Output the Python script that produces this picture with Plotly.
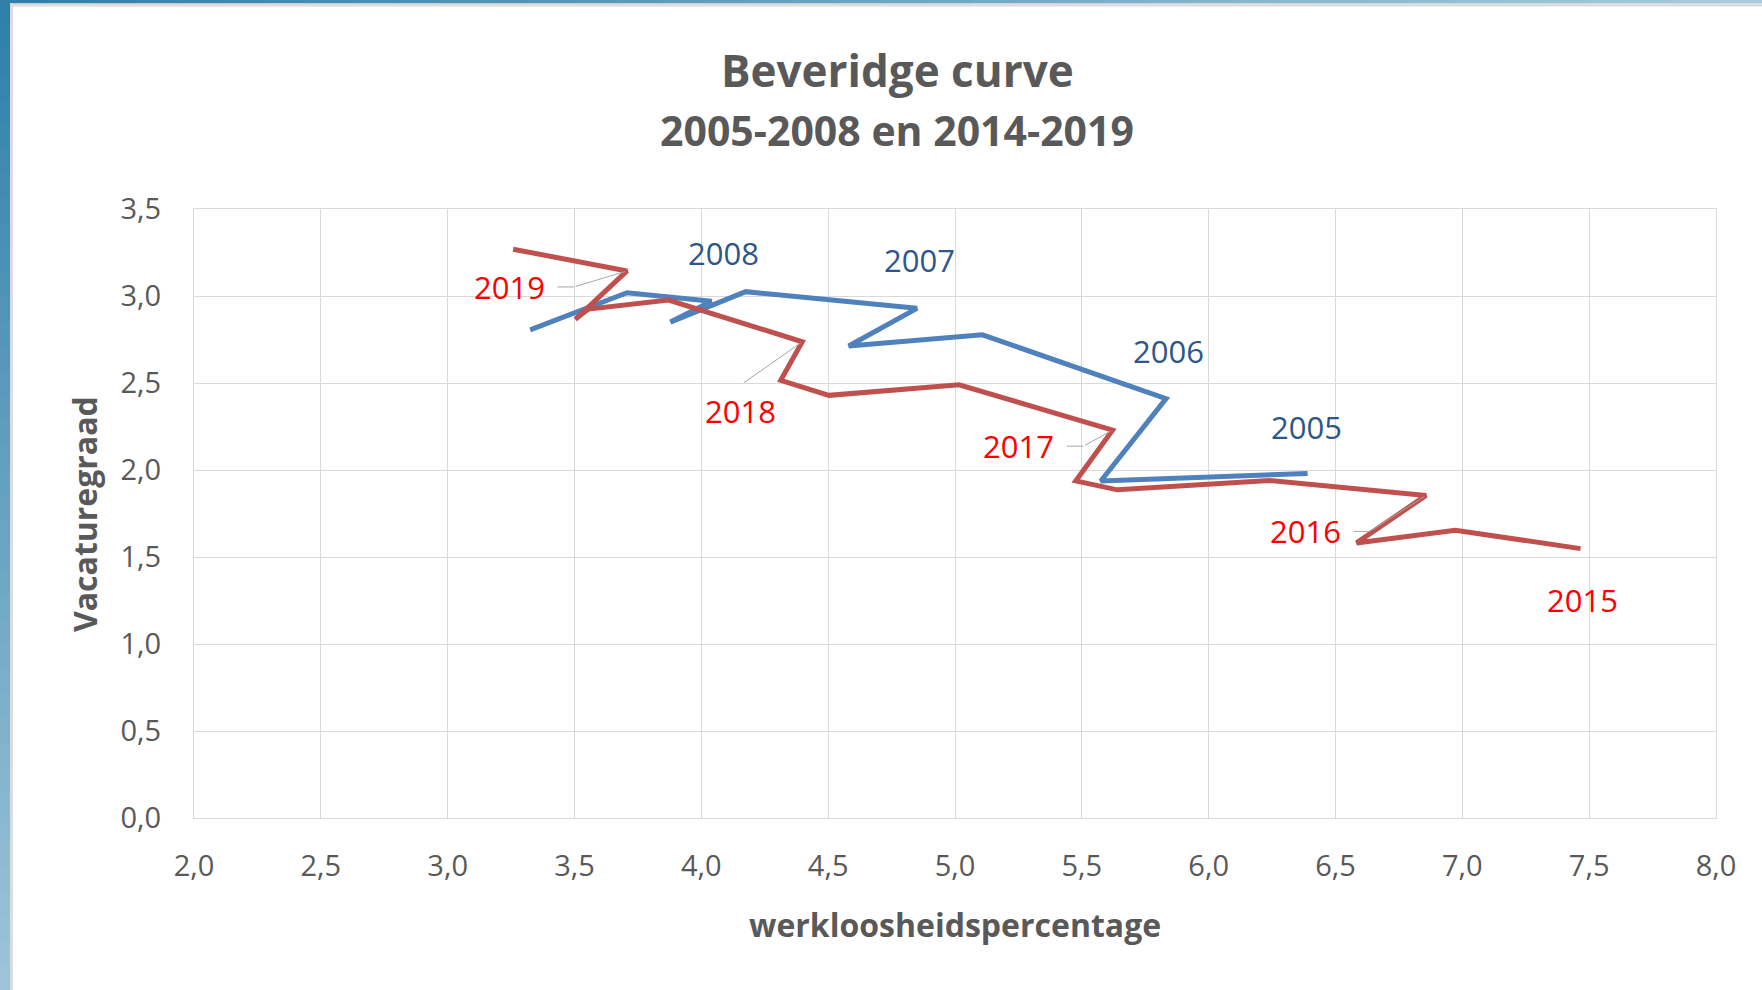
import plotly.graph_objects as go

# ---- data ----
blue_x = [6.39, 5.575, 5.832, 5.108, 4.581, 4.85, 4.175, 3.878, 4.04, 3.707, 3.325]
blue_y = [1.98, 1.937, 2.41, 2.777, 2.713, 2.929, 3.025, 2.85, 2.97, 3.019, 2.805]
blue_label_idx = [0, 2, 5, 8]
blue_label_txt = ["2005", "2006", "2007", "2008"]

red_x = [7.466, 6.972, 6.583, 6.857, 6.24, 5.64, 5.476, 5.621, 5.016, 4.503,
         4.313, 4.398, 3.871, 3.555, 3.503, 3.707, 3.258]
red_y = [1.548, 1.654, 1.581, 1.854, 1.94, 1.886, 1.937, 2.229, 2.49, 2.429,
         2.515, 2.737, 2.977, 2.925, 2.866, 3.144, 3.269]
red_label_idx = [0, 3, 7, 11, 15]
red_label_txt = ["2015", "2016", "2017", "2018", "2019"]

x_ticks = [2.0, 2.5, 3.0, 3.5, 4.0, 4.5, 5.0, 5.5, 6.0, 6.5, 7.0, 7.5, 8.0]
y_ticks = [0.0, 0.5, 1.0, 1.5, 2.0, 2.5, 3.0, 3.5]

title_line1 = "Beveridge curve"
title_line2 = "2005-2008 en 2014-2019"
x_title = "werkloosheidspercentage"
y_title = "Vacaturegraad"

# ---- layout geometry ----
W, H = 1762, 990
L, R, T, B = 194, 46, 209, 172
PW, PH = W - L - R, H - T - B
FONT = "Open Sans"
GREY = "#595959"
LEADER = "#A6A6A6"


def px_x(X):
    return (X - L) / PW


def px_y(Y):
    return (H - B - Y) / PH


fig = go.Figure()
fig.add_trace(go.Scatter(x=blue_x, y=blue_y, mode="lines", name="2005-2008",
                         line=dict(color="#4F81BD", width=5), hoverinfo="x+y"))
fig.add_trace(go.Scatter(x=red_x, y=red_y, mode="lines", name="2014-2019",
                         line=dict(color="#C0504D", width=5), hoverinfo="x+y"))

LBL = 31
annotations = []
# blue labels: above the points
blue_shift = {"2005": (-1, 46), "2006": (2, 48), "2007": (3, 48), "2008": (12, 48)}
for i, t in zip(blue_label_idx, blue_label_txt):
    xs, ys = blue_shift[t]
    annotations.append(dict(x=blue_x[i], y=blue_y[i], text=t, showarrow=False,
                            xshift=xs, yshift=ys,
                            font=dict(family=FONT, size=LBL, color="#2E5689")))
# red labels; offsets (px, screen coords, y down) of the label centre from the point
red_off = {"2015": (2, 51, None), "2016": (-121, 36, "elbow"),
           "2017": (-94, 16, "elbow"), "2018": (-62, 69, "direct"),
           "2019": (-118, 16, "elbow")}
for i, t in zip(red_label_idx, red_label_txt):
    dx, dy, kind = red_off[t]
    px, py = red_x[i], red_y[i]
    annotations.append(dict(x=px, y=py, text=t, showarrow=False,
                            xshift=dx, yshift=-dy,
                            font=dict(family=FONT, size=LBL, color="#FF0000")))
    if kind == "elbow":
        ex = dx + 65  # elbow of the leader line
        # diagonal part: from the point to the elbow
        annotations.append(dict(x=px, y=py, text="", showarrow=True,
                                ax=ex, ay=dy, arrowhead=0, arrowwidth=1,
                                arrowcolor=LEADER, standoff=2))
        # horizontal part: from the elbow back to the label
        annotations.append(dict(x=px, y=py, text="", showarrow=True,
                                xshift=ex, yshift=-dy, ax=-18, ay=0,
                                arrowhead=0, arrowwidth=1,
                                arrowcolor=LEADER, standoff=0))
    elif kind == "direct":
        annotations.append(dict(x=px, y=py, text="", showarrow=True,
                                ax=dx + 2, ay=dy - 27, arrowhead=0, arrowwidth=1,
                                arrowcolor=LEADER, standoff=2))

# titles
annotations.append(dict(xref="paper", yref="paper", x=px_x(897), y=px_y(70),
                        text="<b>" + title_line1 + "</b>", showarrow=False,
                        xanchor="center", yanchor="middle",
                        font=dict(family=FONT, size=44, color=GREY)))
annotations.append(dict(xref="paper", yref="paper", x=px_x(897), y=px_y(130),
                        text="<b>" + title_line2 + "</b>", showarrow=False,
                        xanchor="center", yanchor="middle",
                        font=dict(family=FONT, size=41, color=GREY)))
annotations.append(dict(xref="paper", yref="paper", x=px_x(955), y=px_y(925),
                        text="<b>" + x_title + "</b>", showarrow=False,
                        xanchor="center", yanchor="middle",
                        font=dict(family=FONT, size=32, color=GREY)))
annotations.append(dict(xref="paper", yref="paper", x=px_x(84), y=px_y(514),
                        text="<b>" + y_title + "</b>", showarrow=False,
                        textangle=-90, xanchor="center", yanchor="middle",
                        font=dict(family=FONT, size=32, color=GREY)))

# decorative window frame (gradient strips at left and top)
shapes = []
n = 40
def mix(c1, c2, f):
    return "rgb(%d,%d,%d)" % tuple(round(a + (b - a) * f) for a, b in zip(c1, c2))
dark, light_left, light_top = (46, 126, 168), (157, 196, 217), (169, 204, 221)
for k in range(n):
    y0, y1 = H * k / n, H * (k + 1) / n + 1
    shapes.append(dict(type="rect", xref="paper", yref="paper", layer="above",
                       x0=px_x(0), x1=px_x(10), y0=px_y(y1), y1=px_y(y0),
                       fillcolor=mix(dark, light_left, (k + 0.5) / n), line=dict(width=0)))
    x0, x1 = W * k / n, W * (k + 1) / n + 1
    shapes.append(dict(type="rect", xref="paper", yref="paper", layer="above",
                       x0=px_x(x0), x1=px_x(x1), y0=px_y(3.5), y1=px_y(0),
                       fillcolor=mix(dark, light_top, (k + 0.5) / n), line=dict(width=0)))
shapes.append(dict(type="rect", xref="paper", yref="paper", layer="above",
                   x0=px_x(10), x1=px_x(13), y0=px_y(H), y1=px_y(3.5),
                   fillcolor="#DCDCDC", line=dict(width=0)))
shapes.append(dict(type="rect", xref="paper", yref="paper", layer="above",
                   x0=px_x(10), x1=px_x(W), y0=px_y(6.5), y1=px_y(3.5),
                   fillcolor="#DCDCDC", line=dict(width=0)))

fig.update_layout(
    width=W, height=H, margin=dict(l=L, r=R, t=T, b=B, autoexpand=False),
    paper_bgcolor="white", plot_bgcolor="white", showlegend=False,
    separators=", ", font=dict(family=FONT, color=GREY),
    annotations=annotations, shapes=shapes,
)
fig.update_xaxes(range=[2, 8], tickvals=x_ticks, tickformat=".1f",
                 showgrid=True, gridcolor="#D9D9D9", gridwidth=1,
                 showline=True, linecolor="#D9D9D9", mirror=True,
                 zeroline=False, ticks="outside", ticklen=22,
                 tickcolor="rgba(0,0,0,0)",
                 tickfont=dict(family=FONT, size=29, color=GREY))
fig.update_yaxes(range=[0, 3.5], tickvals=y_ticks, tickformat=".1f",
                 showgrid=True, gridcolor="#D9D9D9", gridwidth=1,
                 showline=True, linecolor="#D9D9D9", mirror=True,
                 zeroline=True, zerolinecolor="#BFBFBF", zerolinewidth=1.5,
                 ticks="outside", ticklen=26, tickcolor="rgba(0,0,0,0)",
                 tickfont=dict(family=FONT, size=29, color=GREY))

fig.write_html("out.html", config={"displayModeBar": False},
               post_script="document.body.style.margin='0';"
                           "document.body.style.overflow='hidden';")
